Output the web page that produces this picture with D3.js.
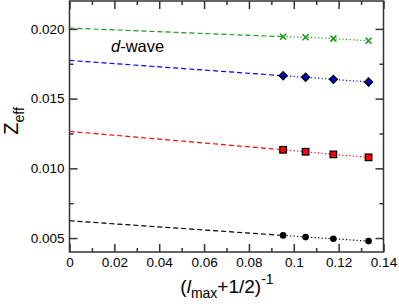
<!DOCTYPE html>
<html><head><meta charset="utf-8">
<script src="https://cdn.jsdelivr.net/npm/d3@7"></script>
<style>body{margin:0;background:#fff}svg{display:block}text{font-family:"Liberation Sans",Arial,sans-serif}</style>
</head><body>
<svg id="c" width="399" height="304"></svg>
<script>
const xValues = [2/21, 2/19, 2/17, 2/15];
const seriesNames = ["green", "blue", "red", "black"];
const seriesColors = ["#1a9a1a", "#0000ff", "#ff0000", "#000000"];
const seriesMarkers = ["cross", "diamond", "square", "circle"];
const greenValues = [0.01944, 0.01940, 0.01930, 0.01915];
const blueValues  = [0.01664, 0.01653, 0.01638, 0.01619];
const redValues   = [0.01133, 0.01119, 0.01100, 0.01079];
const blackValues = [0.00519, 0.00507, 0.00495, 0.00478];
const intercepts  = [0.02006, 0.01774, 0.01265, 0.00624];
const xTicks = [0, 0.02, 0.04, 0.06, 0.08, 0.1, 0.12, 0.14];
const xTickLabels = ["0", "0.02", "0.04", "0.06", "0.08", "0.1", "0.12", "0.14"];
const yTicks = [0.005, 0.010, 0.015, 0.020];
const yTickLabels = ["0.005", "0.010", "0.015", "0.020"];
const xMinor = [0.01, 0.03, 0.05, 0.07, 0.09, 0.11, 0.13];
const yMinor = [0.0075, 0.0125, 0.0175];

const allValues = [greenValues, blueValues, redValues, blackValues];
const svg = d3.select("#c");
const L = 69.5, R = 383.5, T = 1, B = 252;
const x = d3.scaleLinear().domain([0, 0.14]).range([L, R]);
const y = d3.scaleLinear().domain([0.004, 0.022]).range([B, T]);

const axCol = "#333";
function tickAxis(axisFn, scale, vals, len, transform, labels) {
  const a = axisFn(scale).tickValues(vals).tickSizeInner(len).tickSizeOuter(0)
    .tickFormat(labels ? (d, i) => labels[i] : "");
  const g = svg.append("g").attr("transform", transform).call(a);
  g.select(".domain").remove();
  g.selectAll(".tick line").attr("stroke", axCol).attr("stroke-width", 1.5);
  g.selectAll(".tick text").attr("font-size", 13.5).attr("fill", "#000")
    .attr("font-family", "Liberation Sans, Arial, sans-serif");
  return g;
}
const gb = tickAxis(d3.axisBottom, x, xTicks, -8, `translate(0,${B})`, xTickLabels);
gb.selectAll(".tick text").attr("y", 5);
tickAxis(d3.axisBottom, x, xMinor, -4, `translate(0,${B})`, null).selectAll("text").remove();
tickAxis(d3.axisTop, x, xTicks, -8, `translate(0,${T})`, null).selectAll("text").remove();
tickAxis(d3.axisTop, x, xMinor, -4, `translate(0,${T})`, null).selectAll("text").remove();
const gl = tickAxis(d3.axisLeft, y, yTicks, -8, `translate(${L},0)`, yTickLabels);
gl.selectAll(".tick text").attr("x", -5);
tickAxis(d3.axisLeft, y, yMinor, -4, `translate(${L},0)`, null).selectAll("text").remove();
tickAxis(d3.axisRight, y, yTicks, -8, `translate(${R},0)`, null).selectAll("text").remove();
tickAxis(d3.axisRight, y, yMinor, -4, `translate(${R},0)`, null).selectAll("text").remove();

svg.append("rect").attr("x", L).attr("y", T).attr("width", R - L).attr("height", B - T)
  .attr("fill", "none").attr("stroke", axCol).attr("stroke-width", 1.5);

const line = d3.line().x(d => x(d[0])).y(d => y(d[1]));
allValues.forEach((vals, si) => {
  const col = seriesColors[si];
  svg.append("path").datum([[0, intercepts[si]], [xValues[0], vals[0]]])
    .attr("d", line).attr("fill", "none").attr("stroke", col).attr("stroke-width", 1.2)
    .attr("stroke-dasharray", "5,3");
  svg.append("path").datum(xValues.map((xv, i) => [xv, vals[i]]))
    .attr("d", line).attr("fill", "none").attr("stroke", col).attr("stroke-width", 1.2)
    .attr("stroke-dasharray", "1.2,2.3");
  const g = svg.append("g");
  xValues.forEach((xv, i) => {
    const cx = x(xv), cy = y(vals[i]);
    const m = seriesMarkers[si];
    if (m === "circle") {
      g.append("circle").attr("cx", cx).attr("cy", cy).attr("r", 3.3).attr("fill", "#000");
    } else if (m === "square") {
      g.append("rect").attr("x", cx - 3.3).attr("y", cy - 3.3).attr("width", 6.6).attr("height", 6.6)
        .attr("fill", col).attr("stroke", "#000").attr("stroke-width", 1.2);
    } else if (m === "diamond") {
      g.append("path").attr("d", `M${cx},${cy-4}L${cx+4},${cy}L${cx},${cy+4}L${cx-4},${cy}Z`)
        .attr("fill", "#0000cc").attr("stroke", "#000").attr("stroke-width", 1.3);
    } else {
      g.append("path").attr("d", `M${cx-3},${cy-3}L${cx+3},${cy+3}M${cx-3},${cy+3}L${cx+3},${cy-3}`)
        .attr("stroke", col).attr("stroke-width", 1.6).attr("fill", "none");
    }
  });
});

const dw = svg.append("text").attr("x", 111).attr("y", 52).attr("font-size", 16.5).attr("fill", "#000");
dw.append("tspan").attr("font-style", "italic").text("d");
dw.append("tspan").text("-wave");

const yl = svg.append("text").attr("transform", "translate(18,121) rotate(-90)")
  .attr("text-anchor", "middle").attr("fill", "#000");
yl.append("tspan").attr("font-size", 20).text("Z");
yl.append("tspan").attr("font-size", 14).attr("dy", 6).text("eff");

const xl = svg.append("text").attr("x", 227).attr("y", 293).attr("text-anchor", "middle").attr("fill", "#000").attr("font-size", 19);
xl.append("tspan").text("(");
xl.append("tspan").attr("font-style", "italic").text("l");
xl.append("tspan").attr("font-size", 14).attr("dy", 5).text("max");
xl.append("tspan").attr("dy", -5).text("+1/2)");
xl.append("tspan").attr("font-size", 14).attr("dy", -9).text("-1");
</script>
</body></html>
